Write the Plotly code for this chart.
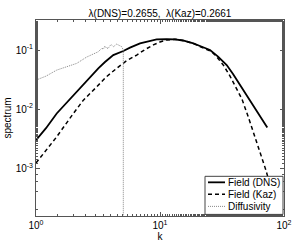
import plotly.graph_objects as go

# Field spectrum (DNS)
k_dns = [1.0, 1.204, 1.469, 1.845, 2.0, 2.48, 3.18, 3.60, 4.20, 5.06, 5.73, 6.90, 8.0, 9.40,
         11.3, 13.2, 15.3, 18.6, 21.0, 25.3, 29.4, 34.5, 38.8, 44.2, 49.4, 56.5, 64.0, 73.3]
s_dns = [2.99e-3, 4.77e-3, 8.45e-3, 0.0142, 0.0173, 0.0287, 0.0490, 0.0627, 0.0823, 0.0962,
         0.110, 0.130, 0.142, 0.152, 0.153, 0.152, 0.145, 0.130, 0.117, 0.100, 0.0776, 0.0557,
         0.0392, 0.0255, 0.0173, 0.0117, 7.46e-3, 4.9e-3]

# Field spectrum (Kaz)
k_kaz = [1.0, 1.45, 2.0, 2.41, 3.09, 3.67, 4.47, 5.32, 6.49, 7.57, 8.83, 10.0, 11.3, 13.2,
         15.3, 18.6, 21.0, 26.1, 28.8, 32.4, 36.7, 41.6, 45.8, 51.3, 57.3, 64.0, 71.6, 80.0, 89.5]
s_kaz = [1.23e-3, 3.29e-3, 8.45e-3, 0.0142, 0.0239, 0.0348, 0.0490, 0.0651, 0.0823, 0.102,
         0.122, 0.137, 0.148, 0.152, 0.145, 0.129, 0.115, 0.0936, 0.0760, 0.0557, 0.0362,
         0.0224, 0.0148, 7.6e-3, 3.77e-3, 1.87e-3, 9.2e-4, 3.9e-4, 1.42e-4]

# Diffusivity
k_dif = [1.0, 1.204, 1.469, 1.746, 2.13, 2.56, 2.83, 3.18, 3.39, 3.50, 3.60, 3.70, 3.83, 3.95,
         4.08, 4.22, 4.47, 4.67, 4.91, 5.06, 5.06]
s_dif = [0.0310, 0.0362, 0.0458, 0.0515, 0.0595, 0.0760, 0.0839, 0.0936, 0.107, 0.104, 0.117,
         0.108, 0.107, 0.119, 0.122, 0.114, 0.126, 0.122, 0.114, 0.100, 1e-8]

series_names = ["Field (DNS)", "Field (Kaz)", "Diffusivity"]

x_tickvals = [1, 10, 100]
x_ticktext = ["10<sup>0</sup>", "10<sup>1</sup>", "10<sup>2</sup>"]
y_tickvals = [1e-3, 1e-2, 1e-1]
y_ticktext = ["10<sup>-3</sup>", "10<sup>-2</sup>", "10<sup>-1</sup>"]

title_text = "λ(DNS)=0.2655,  λ(Kaz)=0.2661"

styles = [
    dict(color="black", width=1.8),
    dict(color="black", width=1.5, dash="4px,3px"),
    dict(color="#888888", width=1, dash="1px,1px"),
]

fig = go.Figure()
for kx, sy, name, st in zip([k_dns, k_kaz, k_dif], [s_dns, s_kaz, s_dif], series_names, styles):
    fig.add_trace(go.Scatter(x=kx, y=sy, mode="lines", name=name, line=st, showlegend=False,
                             hoverinfo="skip"))

# Custom MATLAB-like legend box (opaque, drawn above data)
W, H = 294, 243
L, R, T, B = 36, 10, 20, 27.4
pw, ph = W - L - R, H - T - B


def px_x(x):
    return (x - L) / pw


def px_y(y):
    return (H - B - y) / ph


shapes = [dict(type="rect", xref="paper", yref="paper", layer="above",
               x0=px_x(205), x1=px_x(283), y0=px_y(214), y1=px_y(176),
               fillcolor="white", line=dict(color="#444444", width=1))]
annotations = []
rows = [182, 194, 206]
for yy, name, st in zip(rows, series_names, styles):
    shapes.append(dict(type="line", xref="paper", yref="paper", layer="above",
                       x0=px_x(208), x1=px_x(225), y0=px_y(yy), y1=px_y(yy),
                       line=dict(color=st["color"], width=st["width"],
                                 dash=st.get("dash", "solid"))))
    annotations.append(dict(text=name, xref="paper", yref="paper", x=px_x(226), y=px_y(yy),
                            xanchor="left", yanchor="middle", showarrow=False,
                            font=dict(size=10, color="black")))

axis_common = dict(
    type="log", showgrid=False, zeroline=False, showline=True, linecolor="#555555",
    linewidth=1, mirror="allticks", ticks="inside", ticklen=4, tickcolor="#555555",
    tickfont=dict(size=10, color="black"), automargin=False,
    minor=dict(ticks="inside", ticklen=2, tickcolor="#555555", showgrid=False),
)

fig.update_layout(
    width=W, height=H,
    margin=dict(l=L, r=R, t=T, b=B),
    paper_bgcolor="white", plot_bgcolor="white",
    font=dict(family="Liberation Sans, Arial, sans-serif", size=10, color="black"),
    title=dict(text=title_text, x=0.5, xref="paper", xanchor="center",
               y=1 - 13 / 243, yref="container", yanchor="middle",
               font=dict(size=10)),
    xaxis=dict(axis_common, range=[0, 2], tickvals=x_tickvals, ticktext=x_ticktext,
               title=dict(text="k", standoff=0, font=dict(size=10))),
    yaxis=dict(axis_common, range=[-3.807, -0.492], tickvals=y_tickvals, ticktext=y_ticktext,
               title=dict(text="spectrum", standoff=2, font=dict(size=10))),
    shapes=shapes,
    annotations=annotations,
    showlegend=False,
    hovermode=False,
)

fig.write_html("out.html", config={"displayModeBar": False},
               post_script="document.body.style.margin='0';document.body.style.overflow='hidden';")
